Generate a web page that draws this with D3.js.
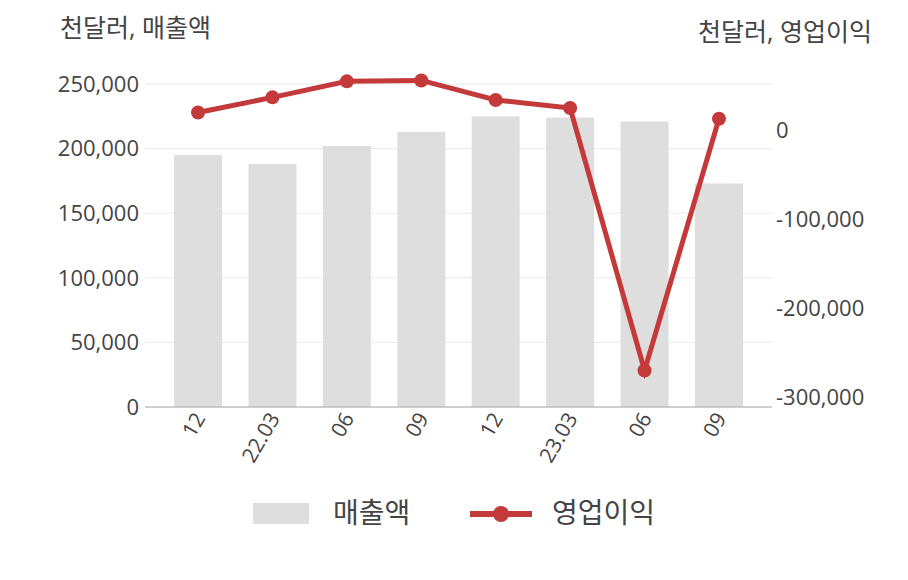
<!DOCTYPE html>
<html><head><meta charset="utf-8">
<script src="https://cdn.jsdelivr.net/npm/d3@7"></script>
<style>body{margin:0;background:#fff}text{font-family:"Open Sans","Noto Sans CJK KR",sans-serif;fill:#444}</style>
</head><body><svg id="c" width="908" height="580"></svg>
<script>
const categories=["12","22.03","06","09","12","23.03","06","09"];
const sales=[195000,188000,202000,213000,225000,224000,221000,173000];
const profit=[20000,37000,55000,56000,34000,25000,-270000,13000];
const leftTicks=[0,50000,100000,150000,200000,250000];
const rightTicks=[0,-100000,-200000,-300000];
const svg=d3.select("#c");
const L=145,R=772,T=84,B=407;
const x=d3.scaleBand().domain(d3.range(categories.length)).range([L,R]).paddingInner(0.355).paddingOuter(0.39);
const yL=d3.scaleLinear().domain([0,250000]).range([B,T]);
const yR=d3.scaleLinear().domain([-311000,52000]).range([B,T]);
const fmt=v=>d3.format(",")(v).replace("−","-");
leftTicks.forEach(t=>{
 svg.append("line").attr("x1",L).attr("x2",R).attr("y1",yL(t)).attr("y2",yL(t)).attr("stroke","#ebebeb");
 svg.append("text").attr("x",139).attr("y",yL(t)).attr("dy","0.35em").attr("text-anchor","end").attr("font-size",22).text(fmt(t));
});
rightTicks.forEach(t=>{
 svg.append("text").attr("x",776).attr("y",yR(t)).attr("dy","0.35em").attr("font-size",22).text(fmt(t));
});
svg.selectAll(".b").data(sales).enter().append("rect").attr("x",(d,i)=>x(i)).attr("width",x.bandwidth())
 .attr("y",d=>yL(d)).attr("height",d=>B-yL(d)).attr("fill","#dedede");
svg.append("line").attr("x1",L).attr("x2",R).attr("y1",B).attr("y2",B).attr("stroke","#aaa");
const cx=i=>x(i)+x.bandwidth()/2;
categories.forEach((c,i)=>{
 svg.append("text").attr("transform",`translate(${cx(i)+8},${418}) rotate(-60)`).attr("text-anchor","end").attr("font-size",21).text(c);
});
const red="#c43a3a";
svg.append("path").datum(profit).attr("fill","none").attr("stroke",red).attr("stroke-width",5)
 .attr("d",d3.line().x((d,i)=>cx(i)).y(d=>yR(d)));
svg.selectAll(".p").data(profit).enter().append("circle").attr("cx",(d,i)=>cx(i)).attr("cy",d=>yR(d)).attr("r",7).attr("fill",red);
svg.append("text").attr("x",60).attr("y",37).attr("font-size",25).text("천달러, 매출액");
svg.append("text").attr("x",872).attr("y",41).attr("text-anchor","end").attr("font-size",25).text("천달러, 영업이익");
svg.append("rect").attr("x",253).attr("y",503).attr("width",56).attr("height",21).attr("fill","#dedede");
svg.append("text").attr("x",333).attr("y",513).attr("dy","0.35em").attr("font-size",28).text("매출액");
svg.append("line").attr("x1",470).attr("x2",532).attr("y1",514).attr("y2",514).attr("stroke",red).attr("stroke-width",6);
svg.append("circle").attr("cx",501).attr("cy",514).attr("r",8).attr("fill",red);
svg.append("text").attr("x",552).attr("y",513).attr("dy","0.35em").attr("font-size",28).text("영업이익");
</script></body></html>
